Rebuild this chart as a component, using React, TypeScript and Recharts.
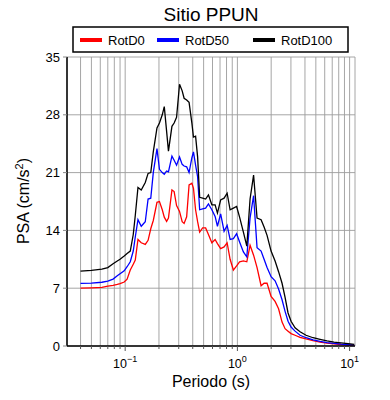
import React from 'react';
import { LineChart, Line, XAxis, YAxis, CartesianGrid } from 'recharts';

const periods = [0.04, 0.05, 0.062, 0.07, 0.078, 0.085, 0.09, 0.098, 0.104, 0.111, 0.118, 0.123, 0.13, 0.139, 0.151, 0.16, 0.169, 0.178, 0.192, 0.202, 0.214, 0.223, 0.234, 0.243, 0.261, 0.273, 0.287, 0.305, 0.322, 0.335, 0.353, 0.371, 0.393, 0.406, 0.424, 0.442, 0.461, 0.49, 0.521, 0.552, 0.592, 0.633, 0.664, 0.709, 0.761, 0.81, 0.861, 0.921, 0.984, 1.046, 1.131, 1.213, 1.297, 1.394, 1.497, 1.626, 1.729, 1.838, 1.996, 2.167, 2.328, 2.5, 2.66, 2.828, 3.008, 3.265, 3.616, 4.09, 4.72, 5.45, 6.29, 7.26, 8.38, 9.7, 11.0];

const rotD0 = [7.02, 7.05, 7.1, 7.25, 7.35, 7.45, 7.55, 7.75, 8.1, 9.2, 9.9, 10.4, 12.9, 12.5, 12.3, 12.8, 14.2, 15.2, 17.4, 17.5, 16.5, 15.6, 15.1, 15.5, 18.9, 18.7, 17.0, 16.3, 15.05, 14.85, 15.65, 19.5, 19.7, 19.1, 16.5, 15.05, 13.8, 14.3, 14.3, 13.5, 12.5, 12.9, 12.4, 11.8, 12.0, 12.5, 10.5, 9.2, 9.7, 10.2, 10.3, 10.2, 12.2, 11.0, 9.5, 7.3, 7.6, 7.6, 6.0, 5.4, 4.5, 2.9, 2.1, 1.8, 1.5, 1.3, 1.05, 0.85, 0.65, 0.48, 0.35, 0.26, 0.18, 0.12, 0.08];

const rotD50 = [7.59, 7.62, 7.72, 7.85, 8.1, 8.5, 8.75, 9.1, 9.6, 10.2, 11.5, 13.2, 15.3, 14.5, 15.05, 17.8, 17.9, 21.0, 23.9, 21.4, 21.0, 20.8, 21.2, 21.1, 23.0, 22.5, 21.9, 22.9, 22.0, 21.8, 21.7, 21.0, 22.8, 23.5, 21.9, 20.5, 16.5, 16.6, 16.7, 17.2, 16.5, 15.7, 14.5, 16.0, 13.9, 14.6, 12.9, 13.0, 13.6, 12.6, 11.4, 10.8, 15.5, 18.2, 11.9, 11.5, 10.5, 9.5, 8.4, 7.9, 6.9, 5.6, 4.2, 3.0, 2.3, 1.8, 1.3, 1.0, 0.75, 0.55, 0.42, 0.32, 0.22, 0.15, 0.1];

const rotD100 = [9.08, 9.15, 9.3, 9.5, 9.95, 10.3, 10.5, 10.9, 11.2, 11.5, 13.5, 15.8, 19.2, 18.9, 19.8, 20.9, 21.0, 23.5, 26.4, 27.0, 28.0, 29.0, 26.0, 23.6, 26.6, 27.0, 27.7, 31.7, 30.9, 30.0, 29.8, 29.5, 27.0, 25.3, 25.4, 22.9, 18.0, 17.9, 17.8, 18.3, 17.1, 17.1, 16.1, 17.7, 17.9, 18.5, 16.5, 16.7, 16.9, 15.6, 13.8, 12.1, 17.8, 20.7, 15.5, 15.3, 14.4, 13.4, 11.5, 10.3, 9.0, 7.6, 5.9, 4.0, 3.0, 2.2, 1.73, 1.3, 1.0, 0.8, 0.62, 0.48, 0.38, 0.28, 0.2];

const gridPeriods = [0.04, 0.05, 0.06, 0.07, 0.08, 0.09, 0.1, 0.2, 0.3, 0.4, 0.5, 0.6, 0.7, 0.8, 0.9, 1, 2, 3, 4, 5, 6, 7, 8, 9, 10];
const majorPeriods = [0.1, 1, 10];
const majorExponents = ['\u22121', '0', '1'];
const yTicks = [0, 7, 14, 21, 28, 35];
const seriesNames = ['RotD0', 'RotD50', 'RotD100'];
const seriesKeys = ['d0', 'd50', 'd100'];
const seriesColors = ['#ff0000', '#0000ff', '#000000'];

const titleText = 'Sitio PPUN';
const xLabel = 'Periodo (s)';

const FONT = '"Liberation Sans", Arial, Helvetica, sans-serif';

const data = periods.map((p, i) => ({ T: p, d0: rotD0[i], d50: rotD50[i], d100: rotD100[i] }));

const majorIndex = (v: number) => majorPeriods.findIndex((m) => Math.abs(m - v) < 1e-9);

const BottomTick = (props: any) => {
  const { x, y, payload } = props;
  const mi = majorIndex(payload.value);
  const major = mi >= 0;
  return (
    <g>
      <line x1={x} x2={x} y1={y} y2={y + (major ? 5 : 3)} stroke="#555" strokeWidth={1} />
      {major && (
        <text x={x} y={y + 22} textAnchor="middle" fontSize={12.5} fontFamily={FONT} fill="#000">
          10
          <tspan dy={-6} fontSize={9}>
            {majorExponents[mi]}
          </tspan>
        </text>
      )}
    </g>
  );
};

const TopTick = (props: any) => {
  const { x, y, payload } = props;
  const major = majorIndex(payload.value) >= 0;
  return <line x1={x} x2={x} y1={y} y2={y - (major ? 6 : 3)} stroke="#000" strokeWidth={1} />;
};

export default function App() {
  return (
    <div style={{ position: 'absolute', left: 0, top: 0, width: 390, height: 400, background: '#fff' }}>
      <LineChart width={390} height={400} data={data} margin={{ top: 57, right: 35, bottom: 24, left: 0 }}>
        <CartesianGrid stroke="#9c9c9c" strokeWidth={0.9} />
        <XAxis
          dataKey="T"
          type="number"
          scale="log"
          domain={[0.0303, 11.17]}
          allowDataOverflow
          ticks={gridPeriods}
          interval={0}
          tick={<BottomTick />}
          tickSize={0}
          tickMargin={0}
          tickLine={false}
          axisLine={{ stroke: '#000', strokeWidth: 1.5 }}
          height={30}
        />
        <XAxis
          xAxisId="top"
          orientation="top"
          dataKey="T"
          type="number"
          scale="log"
          domain={[0.0303, 11.17]}
          allowDataOverflow
          ticks={gridPeriods}
          interval={0}
          tick={<TopTick />}
          tickSize={0}
          tickMargin={0}
          tickLine={false}
          axisLine={{ stroke: '#000', strokeWidth: 1.5 }}
          height={0}
        />
        <YAxis
          type="number"
          domain={[0, 35]}
          ticks={yTicks}
          interval={0}
          width={67}
          tickSize={4}
          tickMargin={3}
          tick={{ fill: '#000', fontSize: 13, fontFamily: FONT }}
          tickLine={{ stroke: '#888' }}
          axisLine={{ stroke: '#000', strokeWidth: 1.5 }}
        />
        <YAxis
          yAxisId="right"
          orientation="right"
          type="number"
          domain={[0, 35]}
          ticks={yTicks}
          interval={0}
          width={0}
          tickSize={4}
          tickFormatter={() => ''}
          tickLine={{ stroke: '#888' }}
          axisLine={{ stroke: '#000', strokeWidth: 1.5 }}
        />
        {seriesKeys.map((k, i) => (
          <Line
            key={k}
            dataKey={k}
            type="linear"
            stroke={seriesColors[i]}
            strokeWidth={1.3}
            dot={false}
            isAnimationActive={false}
          />
        ))}
      </LineChart>
      <svg width={390} height={400} style={{ position: 'absolute', left: 0, top: 0, pointerEvents: 'none' }}>
        <text x={211} y={21} textAnchor="middle" fontSize={19} fontFamily={FONT} fill="#000">
          {titleText}
        </text>
        <rect x={73} y={27} width={275} height={25} fill="#fff" stroke="#000" strokeWidth={1.5} />
        {seriesNames.map((n, i) => {
          const lx = [80, 157, 253][i];
          return (
            <g key={n}>
              <line x1={lx} x2={lx + 22} y1={40} y2={40} stroke={seriesColors[i]} strokeWidth={4} />
              <text x={lx + 28} y={45} fontSize={13} fontFamily={FONT} fill="#000">
                {n}
              </text>
            </g>
          );
        })}
        <text x={211} y={387} textAnchor="middle" fontSize={16} fontFamily={FONT} fill="#000">
          {xLabel}
        </text>
        <text
          x={29}
          y={201}
          textAnchor="middle"
          fontSize={16}
          fontFamily={FONT}
          fill="#000"
          transform="rotate(-90, 29, 201)"
        >
          PSA (cm/s
          <tspan dy={-6} fontSize={11}>
            2
          </tspan>
          <tspan dy={6}>)</tspan>
        </text>
      </svg>
    </div>
  );
}
